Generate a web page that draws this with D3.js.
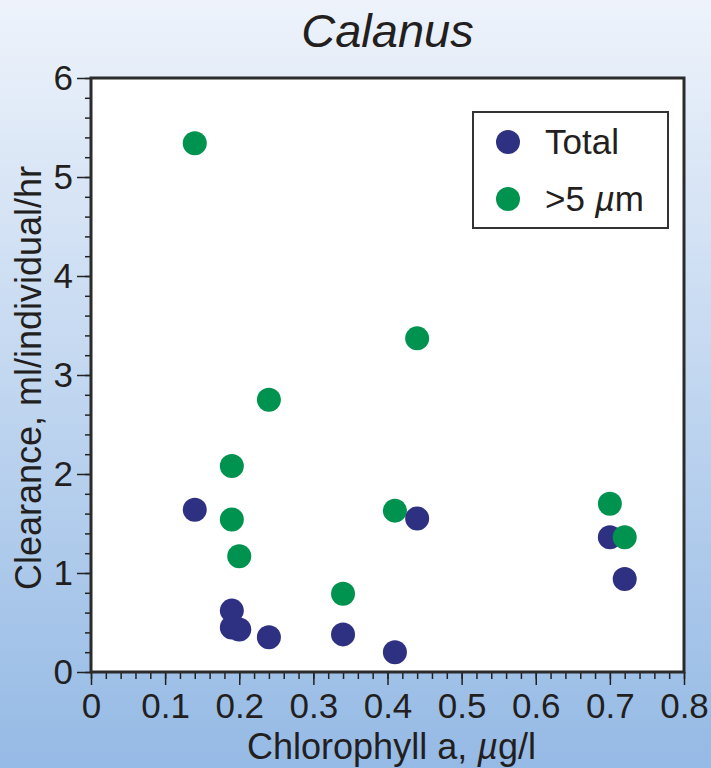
<!DOCTYPE html>
<html>
<head>
<meta charset="utf-8">
<script src="https://cdn.jsdelivr.net/npm/d3@7"></script>
<style>
  html, body { margin: 0; padding: 0; }
  body { width: 711px; height: 768px; overflow: hidden; }
  svg { display: block; font-family: "Liberation Sans", Arial, Helvetica, sans-serif; }
</style>
</head>
<body>
<div id="chart"></div>
<script>
// Chlorophyll a (µg/l) for each sample
const chlorophyll = [0.14, 0.19, 0.19, 0.20, 0.24, 0.34, 0.41, 0.44, 0.70, 0.72];
// Clearance, ml/individual/hr
const totalClearance = [1.64, 0.62, 0.45, 0.43, 0.35, 0.38, 0.20, 1.55, 1.36, 0.94];
const bigClearance = [5.34, 2.08, 1.54, 1.17, 2.75, 0.79, 1.63, 3.37, 1.70, 1.36];

const seriesNames = ["Total", ">5 µm"];
const seriesColors = ["#2e3182", "#00924f"];
const xTicks = [0, 0.1, 0.2, 0.3, 0.4, 0.5, 0.6, 0.7, 0.8];
const yTicks = [0, 1, 2, 3, 4, 5, 6];

const width = 711;
const height = 768;
const margin = { top: 78, right: 27, bottom: 96, left: 91 };

const svg = d3.select("#chart")
  .append("svg")
  .attr("width", width)
  .attr("height", height);

// background gradient
const grad = svg.append("defs").append("linearGradient")
  .attr("id", "bg").attr("x1", 0).attr("y1", 0).attr("x2", 0).attr("y2", 1);
grad.append("stop").attr("offset", "0%").attr("stop-color", "#eef3fb");
grad.append("stop").attr("offset", "100%").attr("stop-color", "#95bae5");
svg.append("rect").attr("width", width).attr("height", height).attr("fill", "url(#bg)");

const x = d3.scaleLinear().domain([0, 0.8]).range([margin.left, width - margin.right]);
const y = d3.scaleLinear().domain([0, 6]).range([height - margin.bottom, margin.top]);

// plot area
svg.append("rect")
  .attr("x", x(0)).attr("y", y(6))
  .attr("width", x(0.8) - x(0)).attr("height", y(0) - y(6))
  .attr("fill", "#fff");

// minor ticks
const xMinor = d3.range(0, 0.8001, 0.02);
const yMinor = d3.range(0, 6.001, 0.2);

svg.append("g")
  .attr("transform", `translate(0,${y(0)})`)
  .call(d3.axisBottom(x).tickValues(xMinor).tickSize(7).tickFormat(""))
  .call(g => g.select(".domain").remove())
  .selectAll("line").attr("stroke", "#222").attr("stroke-width", 1.5);

svg.append("g")
  .attr("transform", `translate(${x(0)},0)`)
  .call(d3.axisLeft(y).tickValues(yMinor).tickSize(6).tickFormat(""))
  .call(g => g.select(".domain").remove())
  .selectAll("line").attr("stroke", "#222").attr("stroke-width", 1.5);

// major ticks and labels
const xAxis = svg.append("g")
  .attr("transform", `translate(0,${y(0)})`)
  .call(d3.axisBottom(x).tickValues(xTicks).tickSize(13).tickPadding(8)
    .tickFormat(d => d === 0 ? "0" : d3.format(".1f")(d)));
xAxis.select(".domain").remove();
xAxis.selectAll("line").attr("stroke", "#222").attr("stroke-width", 1.5);
xAxis.selectAll("text")
  .attr("font-size", 35).attr("fill", "#231f20")
  .attr("font-family", "'Liberation Sans', Arial, sans-serif");

const yAxis = svg.append("g")
  .attr("transform", `translate(${x(0)},0)`)
  .call(d3.axisLeft(y).tickValues(yTicks).tickSize(14).tickPadding(4).tickFormat(d3.format("d")));
yAxis.select(".domain").remove();
yAxis.selectAll("line").attr("stroke", "#222").attr("stroke-width", 1.5);
yAxis.selectAll("text")
  .attr("font-size", 35).attr("fill", "#231f20")
  .attr("font-family", "'Liberation Sans', Arial, sans-serif");

// points, drawn sample by sample
const points = [];
chlorophyll.forEach((c, i) => {
  points.push({ x: c, y: totalClearance[i], s: 0 });
  points.push({ x: c, y: bigClearance[i], s: 1 });
});

svg.append("g")
  .selectAll("circle")
  .data(points)
  .enter()
  .append("circle")
  .attr("cx", d => x(d.x))
  .attr("cy", d => y(d.y))
  .attr("r", 12)
  .attr("fill", d => seriesColors[d.s]);

// frame
svg.append("rect")
  .attr("x", x(0)).attr("y", y(6))
  .attr("width", x(0.8) - x(0)).attr("height", y(0) - y(6))
  .attr("fill", "none").attr("stroke", "#2b2b2b").attr("stroke-width", 3);

// legend
const legend = svg.append("g").attr("transform", "translate(473,112)");
legend.append("rect")
  .attr("width", 195).attr("height", 116)
  .attr("fill", "#fff").attr("stroke", "#333").attr("stroke-width", 2);
seriesNames.forEach((name, i) => {
  const item = legend.append("g").attr("transform", `translate(0,${30 + i * 57})`);
  item.append("circle").attr("cx", 35).attr("cy", 0).attr("r", 12).attr("fill", seriesColors[i]);
  const t = item.append("text")
    .attr("x", 72).attr("y", 0).attr("dy", "0.35em")
    .attr("font-size", 35).attr("fill", "#231f20");
  if (i === 1) {
    t.append("tspan").text(">5 ");
    t.append("tspan").attr("font-style", "italic").text("µ");
    t.append("tspan").text("m");
  } else {
    t.text(name);
  }
});

// title
svg.append("text")
  .attr("x", (x(0) + x(0.8)) / 2).attr("y", 47)
  .attr("text-anchor", "middle")
  .attr("font-size", 47).attr("font-style", "italic").attr("fill", "#231f20")
  .text("Calanus");

// x axis label
const xl = svg.append("text")
  .attr("x", (x(0) + x(0.8)) / 2 + 4).attr("y", 759)
  .attr("text-anchor", "middle")
  .attr("font-size", 36).attr("fill", "#231f20");
xl.append("tspan").text("Chlorophyll a, ");
xl.append("tspan").attr("font-style", "italic").text("µ");
xl.append("tspan").text("g/l");

// y axis label
svg.append("text")
  .attr("transform", `translate(41,${(y(0) + y(6)) / 2 + 3}) rotate(-90)`)
  .attr("text-anchor", "middle")
  .attr("font-size", 36).attr("fill", "#231f20")
  .text("Clearance, ml/individual/hr");
</script>
</body>
</html>
